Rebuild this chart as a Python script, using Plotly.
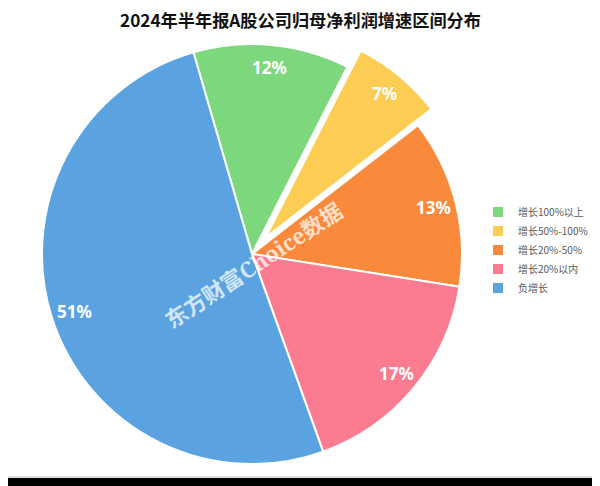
import math
import plotly.graph_objects as go

# ---- data ----
labels = ["增长100%以上", "增长50%-100%", "增长20%-50%", "增长20%以内", "负增长"]
values = [12, 7, 13, 17, 51]
colors = ["#7dd87d", "#fccd52", "#f98a3c", "#fb7b91", "#5aa3e0"]
pulls = [0, 0.1, 0, 0, 0]
title_text = "2024年半年报A股公司归母净利润增速区间分布"
watermark = "东方财富Choice数据"

# The page places the figure 8px in from the window's top-left corner.
OFF = 8
WIN_W, WIN_H = 600, 486
W, H = WIN_W - OFF, WIN_H - OFF


def px(X):
    """window x (px) -> paper x"""
    return (X - OFF) / W


def py(Y):
    """window y (px, from top) -> paper y"""
    return (WIN_H - Y) / H


CXw, CYw = 252, 254        # pie centre in window px
R = 210                    # pie radius in px
ROT = -16.2                # start angle (deg, clockwise from 12 o'clock)
half = R * (1 + max(pulls))

fig = go.Figure()
fig.add_trace(go.Pie(
    labels=labels, values=values, sort=False, direction="clockwise",
    rotation=ROT, pull=pulls,
    marker=dict(colors=colors, line=dict(color="white", width=2)),
    textinfo="none", hoverinfo="label+percent",
    domain=dict(x=[px(CXw - half), px(CXw + half)],
                y=[py(CYw + half), py(CYw - half)]),
))

# percentage labels placed along each slice's mid angle
total = sum(values)
ang = ROT
annotations = []
for lab, v, p in zip(labels, values, pulls):
    span = 360.0 * v / total
    mid = math.radians(ang + span / 2)
    rr = R * 0.89 + p * R
    annotations.append(dict(
        x=px(CXw + rr * math.sin(mid)), y=py(CYw - rr * math.cos(mid)),
        xref="paper", yref="paper", showarrow=False,
        xanchor="center", yanchor="middle",
        text=f"<b>{v}%</b>",
        font=dict(family="Noto Sans, Noto Sans CJK SC", size=17, color="white"),
    ))
    ang += span

annotations.append(dict(
    x=px(300), y=py(19.5), xref="paper", yref="paper", showarrow=False,
    xanchor="center", yanchor="middle",
    text=f"<b>{title_text}</b>",
    font=dict(family="Noto Sans CJK SC", size=17.2, color="#111111"),
))
annotations.append(dict(
    x=px(253), y=py(265), xref="paper", yref="paper", showarrow=False,
    xanchor="center", yanchor="middle",
    text=f"<b>{watermark}</b>", textangle=-33.5,
    font=dict(family="Noto Serif, DejaVu Serif, Noto Sans CJK SC", size=22,
              color="rgba(255,255,255,0.72)"),
))

fig.update_layout(
    width=W, height=H,
    margin=dict(l=0, r=0, t=0, b=0),
    paper_bgcolor="white", plot_bgcolor="white",
    annotations=annotations,
    showlegend=True,
    legend=dict(x=px(478), xanchor="left", y=py(250), yanchor="middle",
                font=dict(family="Noto Sans CJK SC", size=10, color="#595959"),
                bgcolor="rgba(0,0,0,0)", traceorder="normal"),
    shapes=[
        dict(type="rect", xref="paper", yref="paper", x0=0, x1=1,
             y0=0, y1=py(478), fillcolor="black", line=dict(width=0)),
        dict(type="line", xref="paper", yref="paper", x0=0, x1=px(598.5),
             y0=py(477), y1=py(477), line=dict(color="#d4d4d4", width=1.5)),
        dict(type="line", xref="paper", yref="paper", x0=px(598.5), x1=px(598.5),
             y0=py(477), y1=1, line=dict(color="#d4d4d4", width=1.5)),
    ],
)

fig.write_html("out.html")
